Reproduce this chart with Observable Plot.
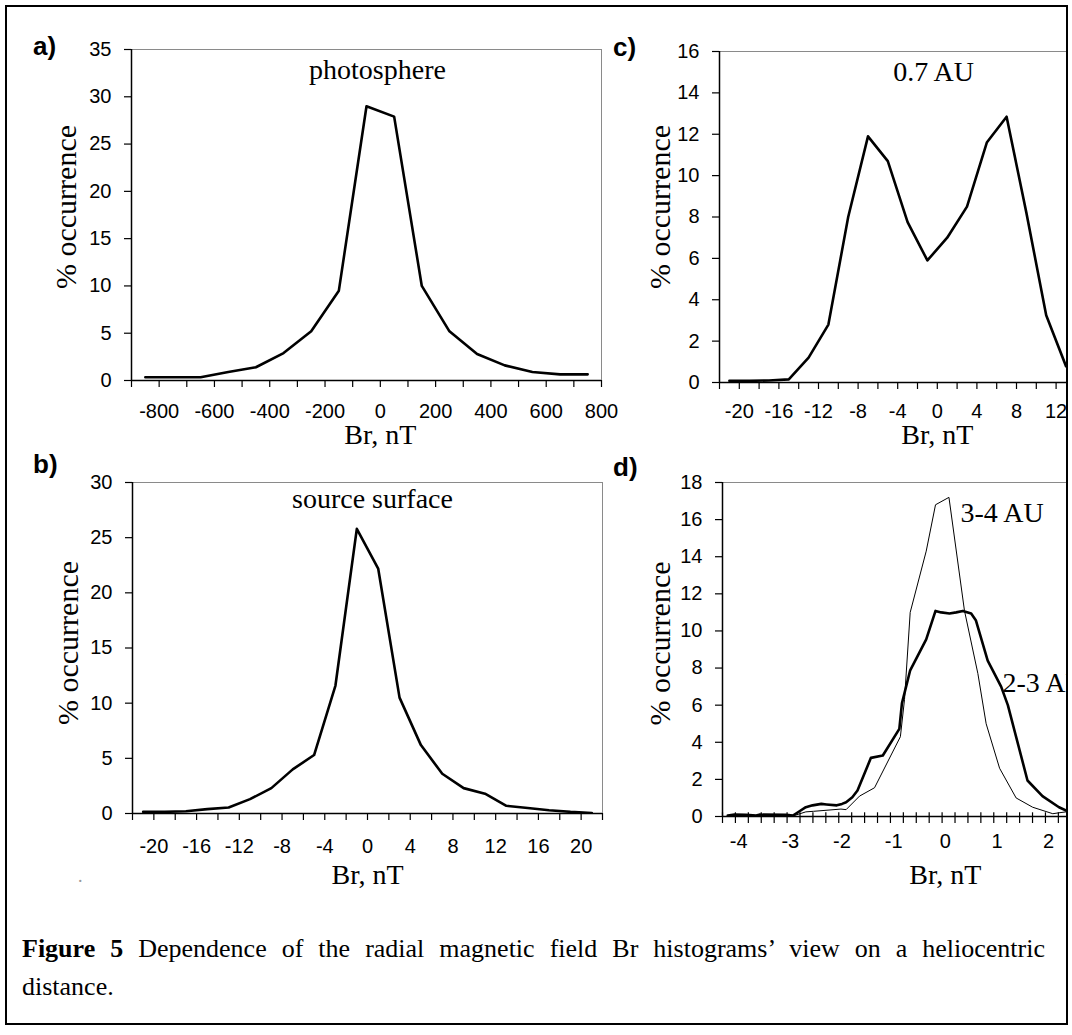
<!DOCTYPE html>
<html><head><meta charset="utf-8">
<script src="https://cdn.jsdelivr.net/npm/d3@7"></script>
<script src="https://cdn.jsdelivr.net/npm/@observablehq/plot@0.6"></script>
<style>
html,body{margin:0;padding:0;background:#fff;overflow:hidden;}
#root{position:relative;width:1072px;height:1035px;background:#fff;}
.box{position:absolute;}
.clip{position:absolute;overflow:hidden;}
.letter{position:absolute;font-family:"Liberation Sans",Arial,sans-serif;font-weight:bold;font-size:26px;line-height:26px;color:#000;}
.frame{position:absolute;left:5px;top:5px;width:1063px;height:1020px;border:2px solid #000;box-sizing:border-box;pointer-events:none;}
.caption{position:absolute;left:22px;width:1023px;font-family:"Liberation Serif","Times New Roman",serif;font-size:26px;line-height:38px;color:#000;}
.caption .l1{text-align:justify;text-align-last:justify;}
.dot{position:absolute;left:78px;top:866px;font-family:"Liberation Serif",serif;font-size:18px;color:#999;}
</style></head>
<body><div id="root"></div>
<script>
// ---------- data ----------
const photoBr  = [-850,-750,-650,-550,-450,-350,-250,-150,-50,50,150,250,350,450,550,650,750];
const photoOcc = [0.35,0.35,0.35,0.9,1.4,2.9,5.2,9.5,29.0,27.9,10.0,5.2,2.8,1.6,0.9,0.65,0.65];

const sourceBr  = [-21,-19,-17,-15,-13,-11,-9,-7,-5,-3,-1,1,3,5,7,9,11,13,15,17,19,21];
const sourceOcc = [0.15,0.15,0.2,0.4,0.55,1.3,2.3,4.0,5.3,11.6,25.8,22.2,10.5,6.2,3.6,2.3,1.8,0.7,0.5,0.3,0.15,0.05];

const au07Br  = [-21,-19,-17,-15,-13,-11,-9,-7,-5,-3,-1,1,3,5,7,9,11,13];
const au07Occ = [0.08,0.08,0.1,0.15,1.2,2.8,8.0,11.9,10.7,7.75,5.9,7.0,8.5,11.6,12.85,8.2,3.25,0.79];

const au23Br  = [-4.21,-4.08,-3.86,-3.66,-3.6,-3.08,-2.95,-2.83,-2.7,-2.57,-2.4,-2.3,-2.1,-2.0,-1.92,-1.8,-1.7,-1.44,-1.21,-0.89,-0.84,-0.68,-0.37,-0.19,-0.08,0.08,0.21,0.34,0.5,0.59,0.82,1.08,1.21,1.59,1.88,2.2,2.34];
const au23Occ = [0.05,0.1,0.09,0.05,0.1,0.09,0.05,0.27,0.5,0.6,0.68,0.65,0.6,0.68,0.77,1.04,1.4,3.16,3.29,4.72,6.1,7.88,9.55,11.08,11.0,10.94,11.0,11.08,10.94,10.58,8.4,7.0,6.0,1.94,1.1,0.5,0.32];

const au34Br  = [-4.21,-2.95,-2.7,-2.55,-2.02,-1.92,-1.66,-1.37,-0.87,-0.79,-0.68,-0.37,-0.19,0.07,0.37,0.63,0.79,1.05,1.37,1.69,2.08,2.2,2.34];
const au34Occ = [0.03,0.03,0.25,0.28,0.4,0.37,1.1,1.55,4.3,6.3,11.0,14.3,16.8,17.2,11.1,7.7,5.0,2.6,1.0,0.5,0.15,0.2,0.25];

// tick labels
const photoXLabels  = [-800,-600,-400,-200,0,200,400,600,800];
const photoYTicks   = [0,5,10,15,20,25,30,35];
const sourceXLabels = [-20,-16,-12,-8,-4,0,4,8,12,16,20];
const sourceYTicks  = [0,5,10,15,20,25,30];
const au07XLabels   = [-20,-16,-12,-8,-4,0,4,8,12,16];
const au07YTicks    = [0,2,4,6,8,10,12,14,16];
const dXLabels      = [-4,-3,-2,-1,0,1,2];
const dYTicks       = [0,2,4,6,8,10,12,14,16,18];

const SERIF = "'Liberation Serif','Times New Roman',serif";
const SANS  = "'Liberation Sans',Arial,sans-serif";
const pts = (xs, ys) => xs.map((x, i) => ({x, y: ys[i]}));

function panel(c) {
  const W = c.box.w, H = c.box.h;
  const marks = [
    Plot.frame({stroke: "#8a8a8a", strokeWidth: 1}),
    Plot.axisX(c.xTickMarks, {tickSize: 7, tickFormat: () => "", strokeWidth: 1.2, label: null}),
    Plot.axisX(c.xLabels, {tickSize: 0, tickPadding: c.xPad, fontSize: 20, tickFormat: d => String(d), label: null}),
    Plot.axisY(c.yTicks, {tickSize: 7, tickPadding: 13, fontSize: 20, strokeWidth: 1.2, tickFormat: d => String(d), label: null}),
    Plot.ruleY([c.yDomain[0]], {stroke: "#000", strokeWidth: 1.5}),
    Plot.ruleX([c.xDomain[0]], {stroke: "#000", strokeWidth: 1.5}),
  ];
  if (c.cross) marks.push(Plot.ruleX(c.xTickMarks, {y1: 0, y2: 0.2, stroke: "#000", strokeWidth: 1.2}));
  for (const s of c.series) {
    marks.push(Plot.line(s.data, {x: "x", y: "y", stroke: "#000", strokeWidth: s.w, strokeLinejoin: "round", clip: true}));
  }
  marks.push(Plot.text(["Br, nT"], {x: 0, frameAnchor: "bottom", lineAnchor: "middle", textAnchor: "middle", dy: c.xlabDy, fontSize: 28, fontFamily: SERIF, fill: "#000"}));
  marks.push(Plot.text(["% occurrence"], {frameAnchor: "left", rotate: -90, lineAnchor: "middle", textAnchor: "middle", dx: c.ylabDx, dy: c.ylabDy, fontSize: 30, fontFamily: SERIF, fill: "#000"}));
  for (const n of c.notes) {
    marks.push(Plot.text([n.text], {frameAnchor: n.anchor, textAnchor: n.textAnchor, lineAnchor: "middle", dx: n.dx, dy: n.dy, fontSize: 28, fontFamily: SERIF, fill: "#000"}));
  }
  return Plot.plot({
    width: W, height: H,
    marginLeft: c.plot.l - c.box.x, marginRight: c.box.x + W - c.plot.r,
    marginTop: c.plot.t - c.box.y, marginBottom: c.box.y + H - c.plot.b,
    x: {domain: c.xDomain, label: null}, y: {domain: c.yDomain, label: null},
    style: {background: "transparent", color: "#000", fontFamily: SANS, fontSize: "20px", overflow: "visible", maxWidth: "none"},
    marks
  });
}

const root = document.getElementById("root");
function place(svg, box, clipW) {
  const d = document.createElement("div");
  d.className = clipW ? "clip" : "box";
  d.style.left = box.x + "px"; d.style.top = box.y + "px";
  d.style.width = (clipW || box.w) + "px"; d.style.height = box.h + "px";
  d.appendChild(svg);
  root.appendChild(d);
}

// a) photosphere
place(panel({
  box: {x: 0, y: 0, w: 620, h: 470},
  plot: {l: 131, r: 601, t: 49, b: 380},
  xDomain: [-900, 800], yDomain: [0, 35],
  xTickMarks: d3.range(-900, 801, 100), xLabels: photoXLabels, xPad: 23, yTicks: photoYTicks,
  series: [{data: pts(photoBr, photoOcc), w: 2.6}],
  xlabDy: 55, ylabDx: -65, ylabDy: -8,
  notes: [{text: "photosphere", anchor: "top", textAnchor: "middle", dx: 11, dy: 21}]
}), {x: 0, y: 0, w: 620, h: 470});

// b) source surface
place(panel({
  box: {x: 0, y: 440, w: 620, h: 460},
  plot: {l: 132, r: 602, t: 482, b: 813},
  xDomain: [-22, 22], yDomain: [0, 30],
  xTickMarks: d3.range(-22, 23, 2), xLabels: sourceXLabels, xPad: 25, yTicks: sourceYTicks,
  series: [{data: pts(sourceBr, sourceOcc), w: 2.6}],
  xlabDy: 62, ylabDx: -64, ylabDy: -5,
  notes: [{text: "source surface", anchor: "top", textAnchor: "middle", dx: 5, dy: 17}]
}), {x: 0, y: 440, w: 620, h: 460});

// c) 0.7 AU (cut by the figure border)
place(panel({
  box: {x: 560, y: 0, w: 550, h: 470},
  plot: {l: 719, r: 1095.2, t: 51, b: 382},
  xDomain: [-22, 16], yDomain: [0, 16],
  xTickMarks: d3.range(-22, 17, 2), xLabels: au07XLabels, xPad: 21, yTicks: au07YTicks,
  series: [{data: pts(au07Br, au07Occ), w: 2.6}],
  xlabDy: 53, ylabDx: -59, ylabDy: -10,
  notes: [{text: "0.7 AU", anchor: "top", textAnchor: "middle", dx: 26, dy: 21}]
}), {x: 560, y: 0, w: 550, h: 470}, 506);

// d) 2-3 AU and 3-4 AU (cut by the figure border)
place(panel({
  box: {x: 560, y: 440, w: 550, h: 460},
  plot: {l: 722, r: 1083.7, t: 482, b: 816},
  xDomain: [-4.3125, 2.6875], yDomain: [0, 18],
  xTickMarks: d3.range(-4.3125, 2.7, 0.25), xLabels: dXLabels, xPad: 17, yTicks: dYTicks, cross: true,
  series: [{data: pts(au34Br, au34Occ), w: 1}, {data: pts(au23Br, au23Occ), w: 2.6}],
  xlabDy: 59, ylabDx: -62, ylabDy: -6,
  notes: [
    {text: "3-4 AU", anchor: "top-left", textAnchor: "start", dx: 238, dy: 31},
    {text: "2-3 AU", anchor: "top-left", textAnchor: "start", dx: 280, dy: 201}
  ]
}), {x: 560, y: 440, w: 550, h: 460}, 506);

// panel letters
[["a)", 33, 33], ["c)", 613, 34], ["b)", 33, 451], ["d)", 613, 454]].forEach(([t, x, y]) => {
  const d = document.createElement("div");
  d.className = "letter"; d.textContent = t;
  d.style.left = x + "px"; d.style.top = y + "px";
  root.appendChild(d);
});

const dot = document.createElement("div");
dot.className = "dot"; dot.textContent = ".";
root.appendChild(dot);

// caption
const cap = document.createElement("div");
cap.className = "caption";
cap.style.top = "930px";
cap.innerHTML = '<div class="l1"><b>Figure 5</b> Dependence of the radial magnetic field Br histograms’ view on a heliocentric</div><div>distance.</div>';
root.appendChild(cap);

const fr = document.createElement("div");
fr.className = "frame";
root.appendChild(fr);
</script>
</body></html>
